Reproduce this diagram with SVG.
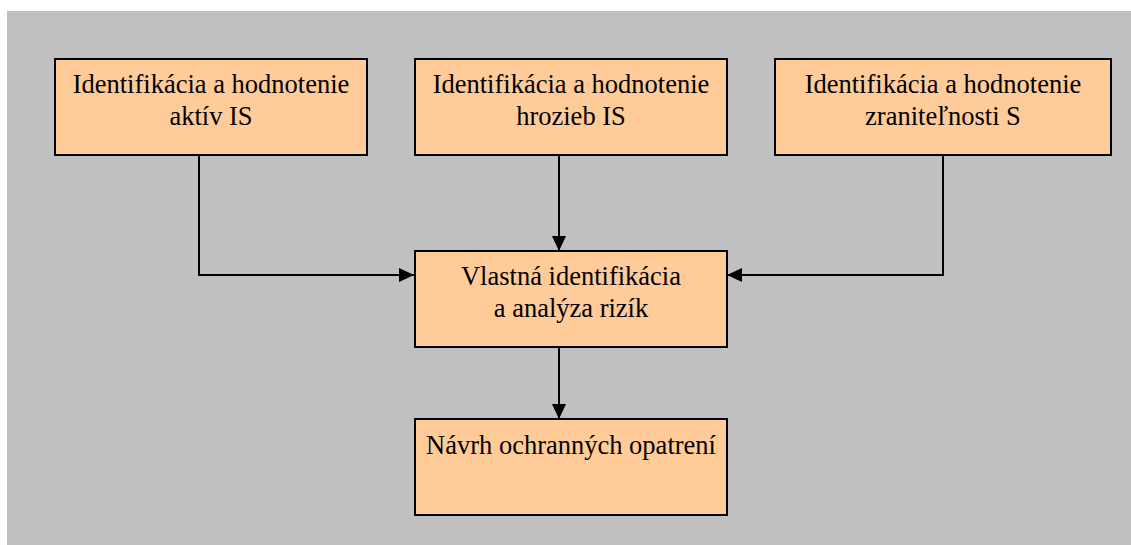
<svg xmlns="http://www.w3.org/2000/svg" width="1131" height="545" viewBox="0 0 1131 545">
<style>
.box{fill:#FFCC99;stroke:#000;stroke-width:2}
text{font-family:'Liberation Serif','Times New Roman',Times,serif;font-size:26.5px;fill:#000;text-anchor:middle}
.c{fill:none;stroke:#000;stroke-width:2}
</style>
<defs>
<marker id="ah" markerWidth="15" markerHeight="14" refX="15" refY="7" orient="auto" markerUnits="userSpaceOnUse">
<path d="M0,0 L15,7 L0,14 Z" fill="#000"/>
</marker>
</defs>
<rect x="7" y="11" width="1124" height="534" fill="#C0C0C0"/>
<g id="connectors">
<path class="c" d="M199,155 V275 H414" marker-end="url(#ah)"/>
<path class="c" d="M559,155 V251" marker-end="url(#ah)"/>
<path class="c" d="M943,155 V275 H727" marker-end="url(#ah)"/>
<path class="c" d="M559,347 V419" marker-end="url(#ah)"/>
</g>
<g id="n1">
<rect class="box" x="55" y="59" width="312" height="96"/>
<text x="211" y="93">Identifikácia a hodnotenie</text>
<text x="211" y="125">aktív IS</text>
</g>
<g id="n2">
<rect class="box" x="415" y="59" width="312" height="96"/>
<text x="571" y="93">Identifikácia a hodnotenie</text>
<text x="571" y="125">hrozieb IS</text>
</g>
<g id="n3">
<rect class="box" x="775" y="59" width="336" height="96"/>
<text x="943" y="93">Identifikácia a hodnotenie</text>
<text x="943" y="125">zraniteľnosti S</text>
</g>
<g id="n4">
<rect class="box" x="415" y="251" width="312" height="96"/>
<text x="571" y="285">Vlastná identifikácia</text>
<text x="571" y="317">a analýza rizík</text>
</g>
<g id="n5">
<rect class="box" x="415" y="419" width="312" height="96"/>
<text x="571" y="454">Návrh ochranných opatrení</text>
</g>
</svg>
